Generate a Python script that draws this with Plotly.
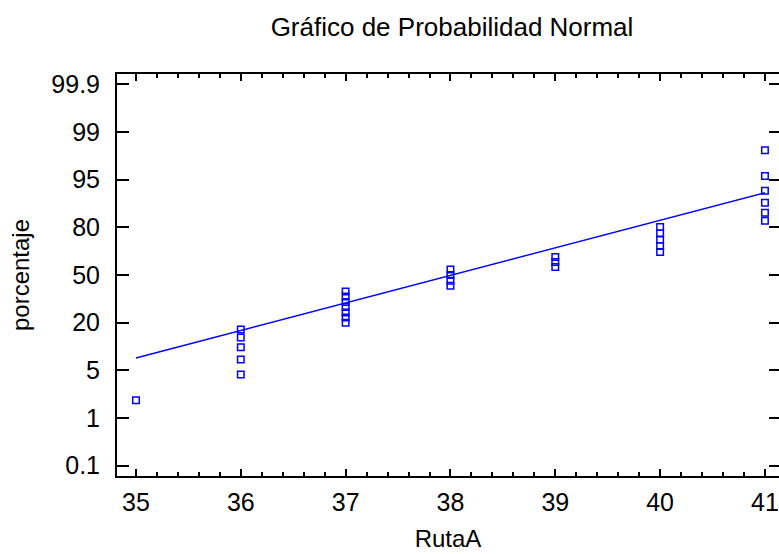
import plotly.graph_objects as go
from statistics import NormalDist

# ---- data ----
ruta_a = [35,
          36, 36, 36, 36, 36,
          37, 37, 37, 37, 37, 37, 37,
          38, 38, 38, 38,
          39, 39, 39,
          40, 40, 40, 40, 40,
          41, 41, 41, 41, 41, 41]
porcentaje = [2.12,
              5.34, 8.55, 12.1, 15.5, 18.8,
              21.9, 24.5, 27.2, 30.2, 33.1, 36.3, 39.5,
              43.1, 46.3, 50.0, 53.5,
              55.1, 58.3, 61.5,
              64.5, 68.1, 71.7, 74.9, 78.2,
              81.1, 84.4, 87.9, 91.4, 94.6, 97.85]
fit_x = [35, 41]
fit_pct = [8.9, 90.9]
x_ticks = [35, 36, 37, 38, 39, 40, 41]
y_tick_labels = ["0.1", "1", "5", "20", "50", "80", "95", "99", "99.9"]

nd = NormalDist()
z_pts = [nd.inv_cdf(p / 100.0) for p in porcentaje]
z_fit = [nd.inv_cdf(p / 100.0) for p in fit_pct]
# Statgraphics places the percentage labels at equal steps on the normal-score axis
step = -nd.inv_cdf(0.001) / 4.0
y_tick_pos = [step * k for k in range(-4, 5)]

BLUE = "#0000FF"
FONT = "Arial, Liberation Sans, sans-serif"

fig = go.Figure()
fig.add_trace(go.Scatter(x=fit_x, y=z_fit, mode="lines",
                         line=dict(color=BLUE, width=1.4),
                         showlegend=False, hoverinfo="skip"))
fig.add_trace(go.Scatter(x=ruta_a, y=z_pts, mode="markers",
                         marker=dict(symbol="square-open", size=6.5, color=BLUE,
                                     line=dict(width=1.5, color=BLUE)),
                         showlegend=False))
fig.add_trace(go.Scatter(x=fit_x, y=z_fit, mode="lines", yaxis="y2",
                         line=dict(width=0), opacity=0,
                         showlegend=False, hoverinfo="skip"))

yr = [-3.26, 3.26]
fig.update_layout(
    width=779, height=554,
    paper_bgcolor="white", plot_bgcolor="white",
    margin=dict(l=117, r=0, t=74, b=78),
    font=dict(family=FONT, color="black"),
    title=dict(text="Gráfico de Probabilidad Normal", font=dict(size=26, family=FONT, color="black"),
               xref="container", x=452 / 779, xanchor="center",
               yref="container", y=1 - 27 / 554, yanchor="middle"),
    xaxis=dict(range=[34.819, 41.134], tickvals=x_ticks, ticks="inside", ticklen=7, tickwidth=1.5,
               tickcolor="black", showline=True, linecolor="black", linewidth=2, mirror="ticks",
               showgrid=False, zeroline=False,
               minor=dict(dtick=0.2, ticks="inside", ticklen=4, tickwidth=1.5, tickcolor="black",
                          showgrid=False),
               tickfont=dict(size=25), ticklabelstandoff=3,
               title=dict(text="RutaA", font=dict(size=24), standoff=15)),
    yaxis=dict(range=yr, tickvals=y_tick_pos, ticktext=y_tick_labels, ticks="inside", ticklen=12,
               tickwidth=2, tickcolor="black", showline=True, linecolor="black", linewidth=2,
               showgrid=False, zeroline=False, tickfont=dict(size=25), ticklabelstandoff=10,
               title=dict(text="porcentaje", font=dict(size=24), standoff=15)),
    yaxis2=dict(range=yr, overlaying="y", side="right", tickvals=y_tick_pos, ticks="inside",
                ticklen=10, tickwidth=2, tickcolor="black", showticklabels=False,
                showline=False, showgrid=False, zeroline=False),
)

fig.write_html("out.html")
